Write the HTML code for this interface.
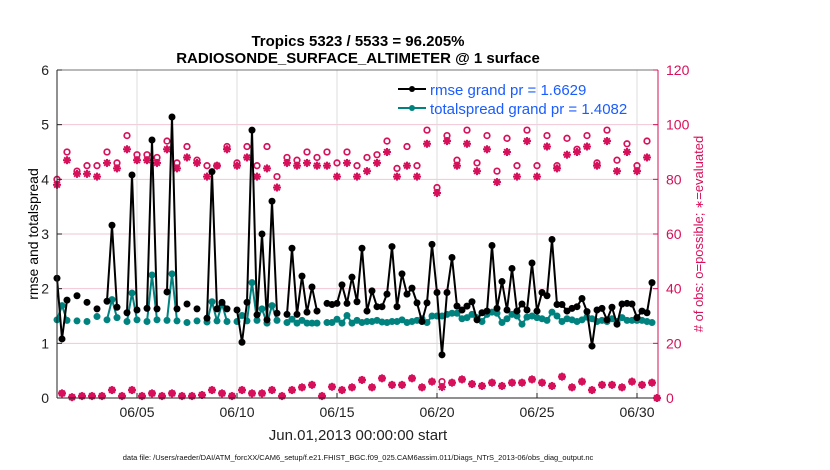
<!DOCTYPE html>
<html><head><meta charset="utf-8"><style>
body{margin:0;background:#fff;}
svg{display:block;font-family:"Liberation Sans",Arial,sans-serif;}
</style></head><body>
<svg id="chart" width="830" height="470" viewBox="0 0 830 470" xmlns="http://www.w3.org/2000/svg">
<g id="grid"></g>
<g id="marks"></g>
<g id="axes"></g>
<text x="358" y="46" text-anchor="middle" font-size="15" font-weight="bold">Tropics 5323 / 5533 = 96.205%</text>
<text x="358" y="63" text-anchor="middle" font-size="15" font-weight="bold">RADIOSONDE_SURFACE_ALTIMETER @ 1 surface</text>
<text transform="translate(38,234) rotate(-90)" text-anchor="middle" font-size="14">rmse and totalspread</text>
<text transform="translate(703,234) rotate(-90)" text-anchor="middle" font-size="13" fill="#d6105a"># of obs: o=possible; <tspan font-size="11">∗</tspan>=evaluated</text>
<text x="358" y="440" text-anchor="middle" font-size="15" fill="#222">Jun.01,2013 00:00:00 start</text>
<text x="358" y="460" text-anchor="middle" font-size="7.5" fill="#111">data file: /Users/raeder/DAI/ATM_forcXX/CAM6_setup/f.e21.FHIST_BGC.f09_025.CAM6assim.011/Diags_NTrS_2013-06/obs_diag_output.nc</text>
<g>
<line x1="398" y1="89" x2="426" y2="89" stroke="#000" stroke-width="2"/>
<circle cx="412" cy="89" r="3" fill="#000"/>
<text x="430" y="95" font-size="15" fill="#1a5cff">rmse grand pr = 1.6629</text>
<line x1="398" y1="108" x2="426" y2="108" stroke="#00827f" stroke-width="2"/>
<circle cx="412" cy="108" r="3" fill="#00827f"/>
<text x="430" y="114" font-size="15" fill="#1a5cff">totalspread grand pr = 1.4082</text>
</g>
</svg>
<script>
const rmse=[2.19,1.08,1.79,null,1.87,null,1.75,null,1.63,null,1.77,3.16,1.66,null,1.56,4.08,1.61,null,1.64,4.72,1.63,null,1.94,5.14,1.63,null,1.72,null,1.63,null,1.46,4.14,1.63,1.75,1.63,null,1.61,1.02,1.75,4.9,1.52,3.0,1.43,3.6,1.55,null,1.53,2.74,1.53,2.23,1.57,2.03,1.59,null,1.73,1.71,1.73,2.07,1.73,2.21,1.76,2.74,1.59,1.96,1.67,1.67,1.90,2.77,1.67,2.27,1.90,2.01,1.74,1.40,1.74,2.81,1.93,0.79,1.93,2.57,1.68,1.61,1.68,1.76,1.43,1.56,1.59,2.79,1.64,2.13,1.61,2.37,1.59,1.72,1.61,2.47,1.59,1.93,1.87,2.90,1.71,1.71,1.59,1.64,1.67,1.82,1.58,0.95,1.61,1.64,1.43,1.66,1.35,1.72,1.73,1.72,1.47,1.59,1.56,2.11];
const spread=[1.43,1.69,1.42,null,1.41,null,1.40,null,1.49,null,1.43,1.80,1.47,null,1.40,1.92,1.43,null,1.40,2.25,1.43,null,1.42,2.27,1.41,null,1.38,null,1.41,null,1.39,1.76,1.41,1.72,1.40,null,1.40,1.51,1.41,2.11,1.42,1.63,1.37,1.69,1.42,null,1.38,1.44,1.37,1.42,1.37,1.37,1.37,null,1.38,1.38,1.44,1.37,1.51,1.37,1.42,1.38,1.40,1.40,1.42,1.39,1.38,1.40,1.40,1.43,1.38,1.40,1.42,1.45,1.38,1.50,1.50,1.50,1.53,1.55,1.55,1.45,1.47,1.53,1.47,1.40,1.53,1.57,1.55,1.38,1.45,1.53,1.50,1.35,1.48,1.50,1.47,1.45,1.42,1.57,1.50,1.40,1.45,1.43,1.40,1.43,1.48,1.45,1.40,1.42,1.40,1.45,1.40,1.47,1.42,1.42,1.42,1.42,1.40,1.38];
const possibleMain=[80,90,83,85,85,90,86,96,89,89,88,94,86,92,87,85,85,92,86,92,85,92,81,88,87,90,88,90,86,90,85,88,89,94,84,92,85,98,77,96,87,98,86,96,83,95,85,98,85,96,85,95,91,96,86,98,87,93,85,94,0];
const evaluatedMain=[78,87,82,82,81,86,84,91,87,87,86,91,84,88,86,81,85,91,85,88,81,84,77,86,85,86,85,85,81,86,81,83,86,90,81,85,81,93,75,94,85,93,83,91,79,90,81,94,81,92,84,89,90,92,85,94,83,90,83,88,0];
const possibleOff=[1.7,0.3,0.7,0.7,0.7,2.9,0.7,2.9,0.7,1.7,0.7,1.7,0.7,0.7,1.1,2.9,1.7,0.7,2.9,1.7,1.7,2.9,0.7,2.9,3.9,4.8,0.7,4.1,2.9,3.9,6.6,3.9,7.2,4.8,4.8,7.2,3.9,6.0,6.0,5.6,6.8,5.1,4.4,5.6,4.4,5.6,5.6,6.8,5.6,4.4,7.8,3.9,6.0,2.9,4.8,4.8,3.9,6.0,4.8,5.6];
const evaluatedOff=[1.7,0.3,0.7,0.7,0.7,2.9,0.7,2.9,0.7,1.7,0.7,1.7,0.7,0.7,1.1,2.9,1.7,0.7,2.9,1.7,1.7,2.9,0.7,2.9,3.9,4.8,0.7,4.1,2.9,3.9,6.6,3.9,7.2,4.8,4.8,7.2,3.9,6.0,4.0,5.6,6.8,5.1,4.4,5.6,4.4,5.6,5.6,6.8,5.6,4.4,7.8,3.9,6.0,2.9,4.8,4.8,3.9,6.0,4.8,5.6];
const xTickDays=[4,9,14,19,24,29];
const xTickLabels=["06/05","06/10","06/15","06/20","06/25","06/30"];
const yLeftTicks=[0,1,2,3,4,5,6];
const yRightTicks=[0,20,40,60,80,100,120];

const NS="http://www.w3.org/2000/svg";
const L=57,R=658,T=70,B=398;
const xDay=d=>L+d*20;
const xIdx=i=>xDay(i*0.25);
const yL=v=>B-(v/6)*(B-T);
const yR=v=>B-(v/120)*(B-T);
const PINK="#d6105a",TEAL="#00827f";
function mk(tag,attrs,parent){const e=document.createElementNS(NS,tag);for(const k in attrs)e.setAttribute(k,attrs[k]);parent.appendChild(e);return e;}
const grid=document.getElementById('grid'),marks=document.getElementById('marks'),axes=document.getElementById('axes');

yRightTicks.forEach(v=>{if(v>0&&v<120){const g=mk('line',{x1:L,x2:R,y1:yR(v),y2:yR(v),stroke:'#f2c6d6','stroke-width':1},grid);

}});
xTickDays.forEach(d=>{const g=mk('line',{x1:xDay(d),x2:xDay(d),y1:T,y2:B,stroke:'#dcdcdc','stroke-width':1},grid);

});

function drawSeries(vals,color,name){
  let seg=[];
  const flush=()=>{if(seg.length>1){const p=mk('polyline',{points:seg.join(' '),fill:'none',stroke:color,'stroke-width':2,'stroke-linejoin':'round'},marks);
  
  }seg=[];};
  vals.forEach((v,i)=>{if(v===null){flush();return;}seg.push(xIdx(i)+','+yL(v));});
  flush();
  vals.forEach((v,i)=>{if(v===null)return;const c=mk('circle',{cx:xIdx(i),cy:yL(v),r:3.5,fill:color},marks);
  
  });
}
function star(x,y,name){const g=mk('g',{stroke:PINK,'stroke-width':2},marks);


for(let a=0;a<180;a+=45){const r=a*Math.PI/180,dx=4*Math.cos(r),dy=4*Math.sin(r);mk('line',{x1:x-dx,y1:y-dy,x2:x+dx,y2:y+dy},g);}}
function ring(x,y,name){const c=mk('circle',{cx:x,cy:y,r:2.8,fill:'none',stroke:PINK,'stroke-width':1.7},marks);

}

possibleMain.forEach((v,k)=>ring(xIdx(2*k),yR(v),'obs-possible'));
evaluatedMain.forEach((v,k)=>star(xIdx(2*k),yR(v),'obs-evaluated'));
possibleOff.forEach((v,k)=>ring(xIdx(2*k+1),yR(v),'obs-possible'));
evaluatedOff.forEach((v,k)=>star(xIdx(2*k+1),yR(v),'obs-evaluated'));

drawSeries(spread,TEAL,'totalspread');
drawSeries(rmse,'#000','rmse');

mk('line',{x1:L,x2:L,y1:T,y2:B,stroke:'#222','stroke-width':1},axes);
mk('line',{x1:L,x2:R,y1:B,y2:B,stroke:'#222','stroke-width':1},axes);
mk('line',{x1:L,x2:R,y1:T,y2:T,stroke:'#444','stroke-width':0.8},axes);
mk('line',{x1:R,x2:R,y1:T,y2:B,stroke:PINK,'stroke-width':1},axes);
yLeftTicks.forEach(v=>{mk('line',{x1:L,x2:L+5,y1:yL(v),y2:yL(v),stroke:'#222'},axes);
const t=mk('text',{x:L-8,y:yL(v)+5,'text-anchor':'end','font-size':14,fill:'#222'},axes);t.textContent=v;

});
yRightTicks.forEach(v=>{mk('line',{x1:R-5,x2:R,y1:yR(v),y2:yR(v),stroke:PINK},axes);
const t=mk('text',{x:R+8,y:yR(v)+5,'font-size':14,fill:PINK},axes);t.textContent=v;

});
xTickDays.forEach((d,i)=>{mk('line',{x1:xDay(d),x2:xDay(d),y1:B,y2:B-5,stroke:'#222'},axes);
const t=mk('text',{x:xDay(d),y:B+19,'text-anchor':'middle','font-size':14,fill:'#222'},axes);t.textContent=xTickLabels[i];

});
</script>
</body></html>
